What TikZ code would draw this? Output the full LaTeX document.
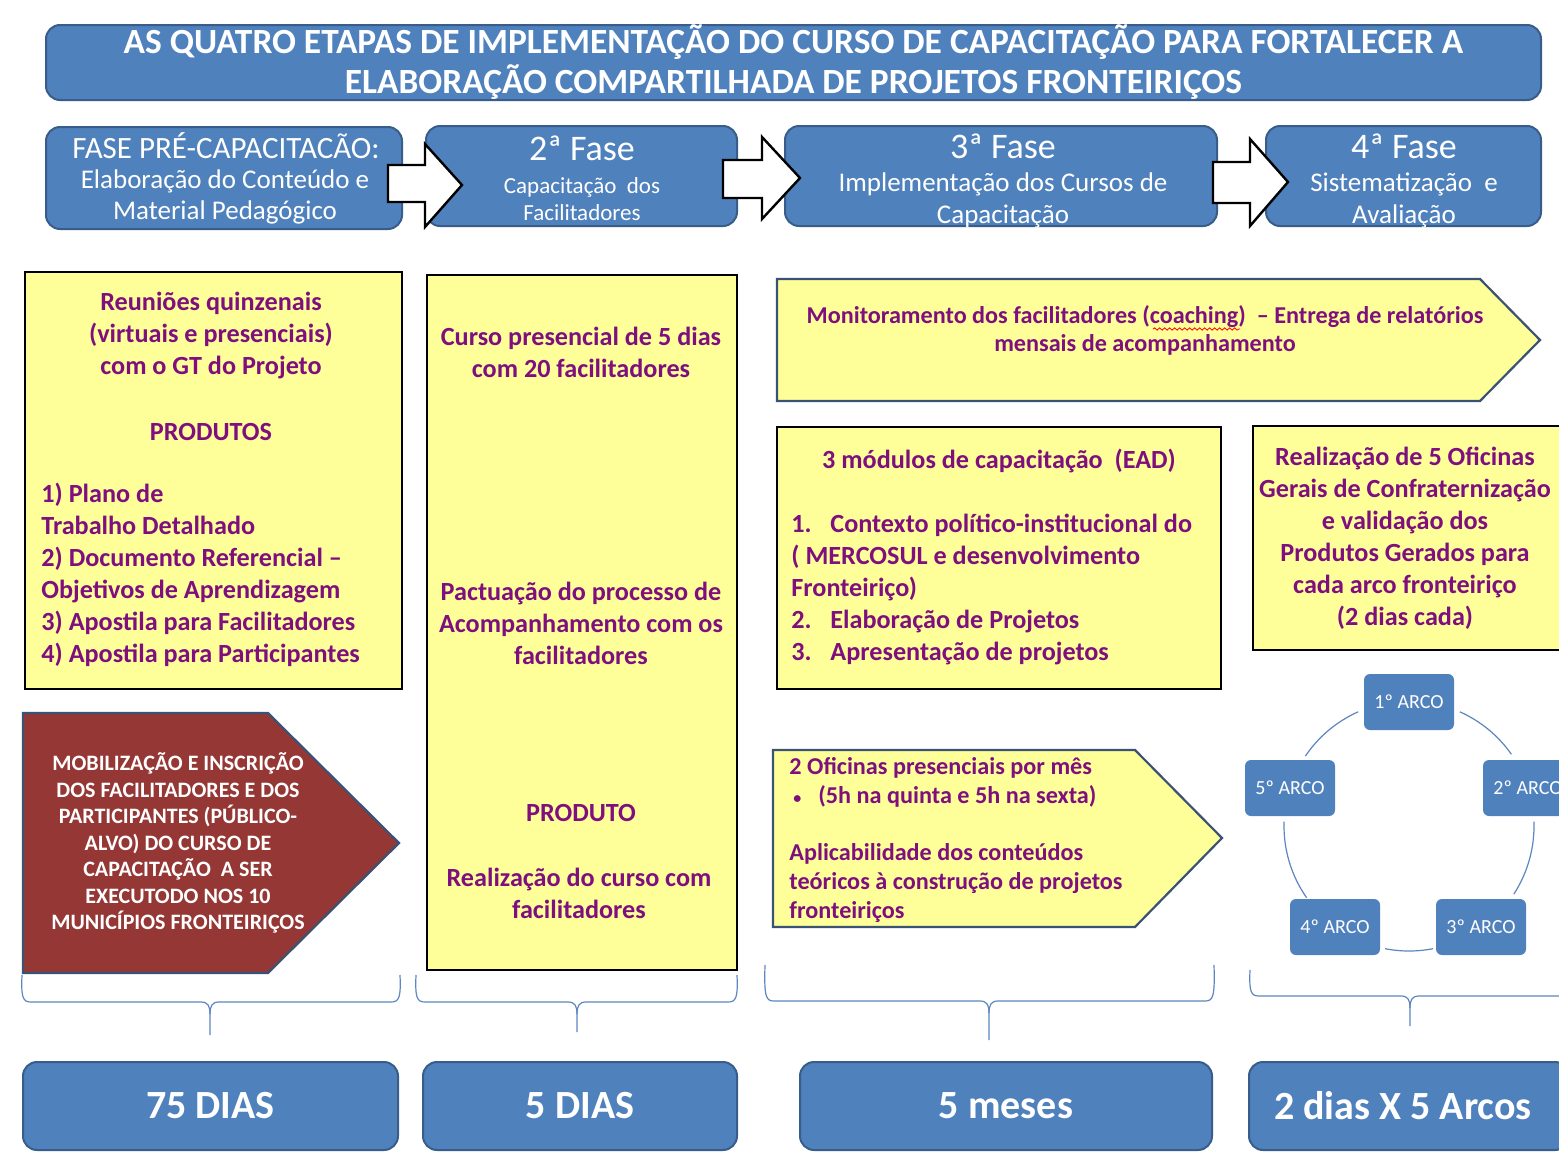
\documentclass[tikz,border=0pt]{standalone}
\usepackage{fontspec}
\setmainfont{Carlito}
\usetikzlibrary{calc,decorations.pathmorphing}
\definecolor{bfill}{HTML}{4F81BD}
\definecolor{bborder}{HTML}{385D8A}
\definecolor{yfill}{HTML}{FFFF99}
\definecolor{ptext}{HTML}{7F0F7E}
\definecolor{rfill}{HTML}{953735}
\definecolor{pborder}{HTML}{3A5273}
\definecolor{braceblue}{HTML}{5B86C0}
\newcommand{\mybrace}[6]{%
 \draw[bracestyle] (#1,#4) .. controls (#1-1,#5-4) and (#1+1,#5) .. (#1+9,#5) -- (#3-9,#5) .. controls (#3-2,#5) and (#3,#5+4) .. (#3,#5+12) -- (#3,#6);
 \draw[bracestyle] (#2,#4) .. controls (#2+1,#5-4) and (#2-1,#5) .. (#2-9,#5) -- (#3+9,#5) .. controls (#3+2,#5) and (#3,#5+4) .. (#3,#5+12);
}
\begin{document}
\begin{tikzpicture}[x=0.5pt,y=-0.5pt,
  bluebox/.style={draw=bborder, fill=bfill, line width=1pt, rounded corners=7pt, inner sep=0pt},
  arcbox/.style={draw=none, fill=bfill, rounded corners=3pt, inner sep=0pt, minimum width=45pt, minimum height=28pt, text=white, font=\fontsize{10}{12}\selectfont},
  ybox/.style={draw=black, fill=yfill, line width=0.6pt, inner sep=0pt},
  ytext/.style={text=ptext, font=\bfseries\fontsize{13.1}{16}\selectfont, inner sep=0pt, align=center},
  ltext/.style={text=ptext, font=\bfseries\fontsize{13.1}{16}\selectfont, inner sep=0pt, align=left, anchor=west},
  phbig/.style={text=white, font=\fontsize{18}{20}\selectfont, inner sep=0pt},
  phsub/.style={text=white, inner sep=0pt, align=center},
  dtext/.style={text=white, font=\bfseries\fontsize{20}{24}\selectfont},
  barrow/.style={draw=black, fill=white, line width=1.2pt, line join=miter},
  pent/.style={draw=pborder, line width=1.1pt, line join=miter},
  bracestyle/.style={draw=braceblue, line width=0.6pt},
  arcline/.style={draw=braceblue, line width=0.6pt}]
\useasboundingbox (0,0) rectangle (1559,1157);
\fill[white] (0,0) rectangle (1559,1157);

% title
\node[bluebox, minimum width=747.5pt, minimum height=37.5pt, text=white,
  font=\bfseries\fontsize{17.7}{20}\selectfont, align=center] (title) at (793.5,62.5)
  {AS QUATRO ETAPAS DE IMPLEMENTAÇÃO DO CURSO DE CAPACITAÇÃO PARA FORTALECER A\\ELABORAÇÃO COMPARTILHADA DE PROJETOS FRONTEIRIÇOS};

% phases
\node[bluebox, minimum width=178pt, minimum height=51pt] (p1) at (224,178) {};
\node[bluebox, minimum width=155.5pt, minimum height=50pt] (p2) at (581.5,176) {};
\node[bluebox, minimum width=216pt, minimum height=50pt] (p3) at (1001,176) {};
\node[bluebox, minimum width=137.5pt, minimum height=50pt] (p4) at (1403.5,176) {};
\node[phbig, font=\fontsize{15.5}{18}\selectfont] (p1t) at (226,146) {FASE PRÉ-CAPACITACÃO:};
\node[phsub, font=\fontsize{13.5}{15.5}\selectfont] (p1s) at (225,197) {Elaboração do Conteúdo e\\Material Pedagógico};
\node[phbig] (p2t) at (582,148) {2ª Fase};
\node[phsub, font=\fontsize{11.5}{13.5}\selectfont] (p2s) at (582,199) {Capacitação\ \ dos\\Facilitadores};
\node[phbig] (p3t) at (1003,146) {3ª Fase};
\node[phsub, font=\fontsize{13.5}{16}\selectfont] (p3s) at (1003,200) {Implementação dos Cursos de\\Capacitação};
\node[phbig] (p4t) at (1404,146) {4ª Fase};
\node[phsub, font=\fontsize{13.5}{16}\selectfont] (p4s) at (1404,200) {Sistematização\ \ e\\Avaliação};

% block arrows between phases
\draw[barrow] (388,165) -- (425,165) -- (425,144) -- (462,185) -- (425,227) -- (425,202) -- (388,202) -- cycle;
\draw[barrow] (723,160) -- (762,160) -- (762,137) -- (800,178) -- (762,219) -- (762,198) -- (723,198) -- cycle;
\draw[barrow] (1213,162) -- (1250,162) -- (1250,139) -- (1288,182) -- (1250,226) -- (1250,203) -- (1213,203) -- cycle;

% yellow box 1
\node[ybox, minimum width=188.5pt, minimum height=208.5pt] (y1) at (213.5,480.5) {};
\node[ytext] (y1a) at (211,336) {Reuniões quinzenais\\(virtuais e presenciais)\\com o GT do Projeto};
\node[ytext] (y1b) at (211,432) {PRODUTOS};
\node[ltext] (y1c) at (41,575) {1) Plano de\\Trabalho Detalhado\\2) Documento Referencial –\\Objetivos de Aprendizagem\\3) Apostila para Facilitadores\\4) Apostila para Participantes};

% yellow box 2
\node[ybox, minimum width=155pt, minimum height=347.5pt] (y2) at (582,622.5) {};
\node[ytext] (y2a) at (581,352) {Curso presencial de 5 dias\\com 20 facilitadores};
\node[ytext] (y2b) at (581,623) {Pactuação do processo de\\Acompanhamento com os\\facilitadores};
\node[ytext] (y2c) at (581,813) {PRODUTO};
\node[ytext] (y2d) at (579,893) {Realização do curso com\\facilitadores};

% monitoring arrow
\draw[pent, fill=yfill] (777,279) -- (1480,279) -- (1540,340) -- (1480,401) -- (777,401) -- cycle;
\node[ytext, font=\bfseries\fontsize{12.1}{14}\selectfont] (mon) at (1145,330) {Monitoramento dos facilitadores (coaching)\ \ – Entrega de relatórios\\mensais de acompanhamento};
\draw[red, line width=0.4pt, decorate, decoration={snake, amplitude=0.6pt, segment length=2.5pt}] (1153,329) -- (1240,329);

% yellow box 3 (EAD)
\node[ybox, minimum width=222pt, minimum height=131pt] (y3) at (999,558) {};
\node[ytext] (y3a) at (999,461) {3 módulos de capacitação\ \ (EAD)};
\node[ltext] (y3b) at (791,589) {\makebox[19.5pt][l]{1.}Contexto político-institucional do\\( MERCOSUL e desenvolvimento\\Fronteiriço)\\\makebox[19.5pt][l]{2.}Elaboração de Projetos\\\makebox[19.5pt][l]{3.}Apresentação de projetos};

% yellow box 4
\node[ybox, minimum width=156pt, minimum height=112pt] (y4) at (1409,538) {};
\node[ytext] (y4a) at (1405,538) {Realização de 5 Oficinas\\Gerais de Confraternização\\e validação dos\\Produtos Gerados para\\cada arco fronteiriço\\(2 dias cada)};

% red pentagon
\draw[pent, fill=rfill] (23,713) -- (268,713) -- (399,843) -- (268,973) -- (23,973) -- cycle;
\node[ytext, text=white, font=\bfseries\fontsize{11}{13.25}\selectfont] (mob) at (178,843) {MOBILIZAÇÃO E INSCRIÇÃO\\DOS FACILITADORES E DOS\\PARTICIPANTES (PÚBLICO-\\ALVO) DO CURSO DE\\CAPACITAÇÃO\ \ A SER\\EXECUTODO NOS 10\\MUNICÍPIOS FRONTEIRIÇOS};

% oficinas pentagon
\draw[pent, fill=yfill] (773,750) -- (1135,750) -- (1222,838) -- (1135,927) -- (773,927) -- cycle;
\node[ltext, font=\bfseries\fontsize{12.1}{14.4}\selectfont] (ofi) at (789,840) {2 Oficinas presenciais por mês\\\hspace*{2pt}\makebox[12.5pt][l]{\fontsize{8}{8}\selectfont •}(5h na quinta e 5h na sexta)\\[14.4pt]Aplicabilidade dos conteúdos\\teóricos à construção de projetos\\fronteiriços};

% arcos circle
\coordinate (cc) at (1409,826);
\draw[arcline] ($(cc)+(66:62.5pt)$) arc[start angle=66, end angle=35, radius=62.5pt];
\draw[arcline] ($(cc)+(2:62.5pt)$) arc[start angle=2, end angle=-33, radius=62.5pt];
\draw[arcline] ($(cc)+(-79:62.5pt)$) arc[start angle=-79, end angle=-101, radius=62.5pt];
\draw[arcline] ($(cc)+(178:62.5pt)$) arc[start angle=178, end angle=215, radius=62.5pt];
\draw[arcline] ($(cc)+(146:62.5pt)$) arc[start angle=146, end angle=114, radius=62.5pt];
\node[arcbox] (a1) at (1409,702) {1º ARCO};
\node[arcbox] (a2) at (1528,788) {2º ARCO};
\node[arcbox] (a3) at (1481,927) {3º ARCO};
\node[arcbox] (a4) at (1335,927) {4º ARCO};
\node[arcbox] (a5) at (1290,788) {5º ARCO};

% braces
\mybrace{22}{400}{210}{975}{1002}{1035}
\mybrace{416}{737}{577}{975}{1002}{1032}
\mybrace{765}{1214}{989}{965}{1001}{1040}
\mybrace{1250}{1600}{1410}{970}{996}{1026}

% duration boxes
\node[bluebox, dtext, minimum width=187.5pt, minimum height=44pt] (d1) at (210.5,1106) {75 DIAS};
\node[bluebox, dtext, minimum width=157pt, minimum height=44pt] (d2) at (580,1106) {5 DIAS};
\node[bluebox, dtext, minimum width=206pt, minimum height=44pt] (d3) at (1006,1106) {5 meses};
\node[bluebox, dtext, minimum width=160pt, minimum height=44pt, anchor=west] (d4) at (1248,1106) {\hspace*{-6pt}2 dias X 5 Arcos};
\end{tikzpicture}
\end{document}
